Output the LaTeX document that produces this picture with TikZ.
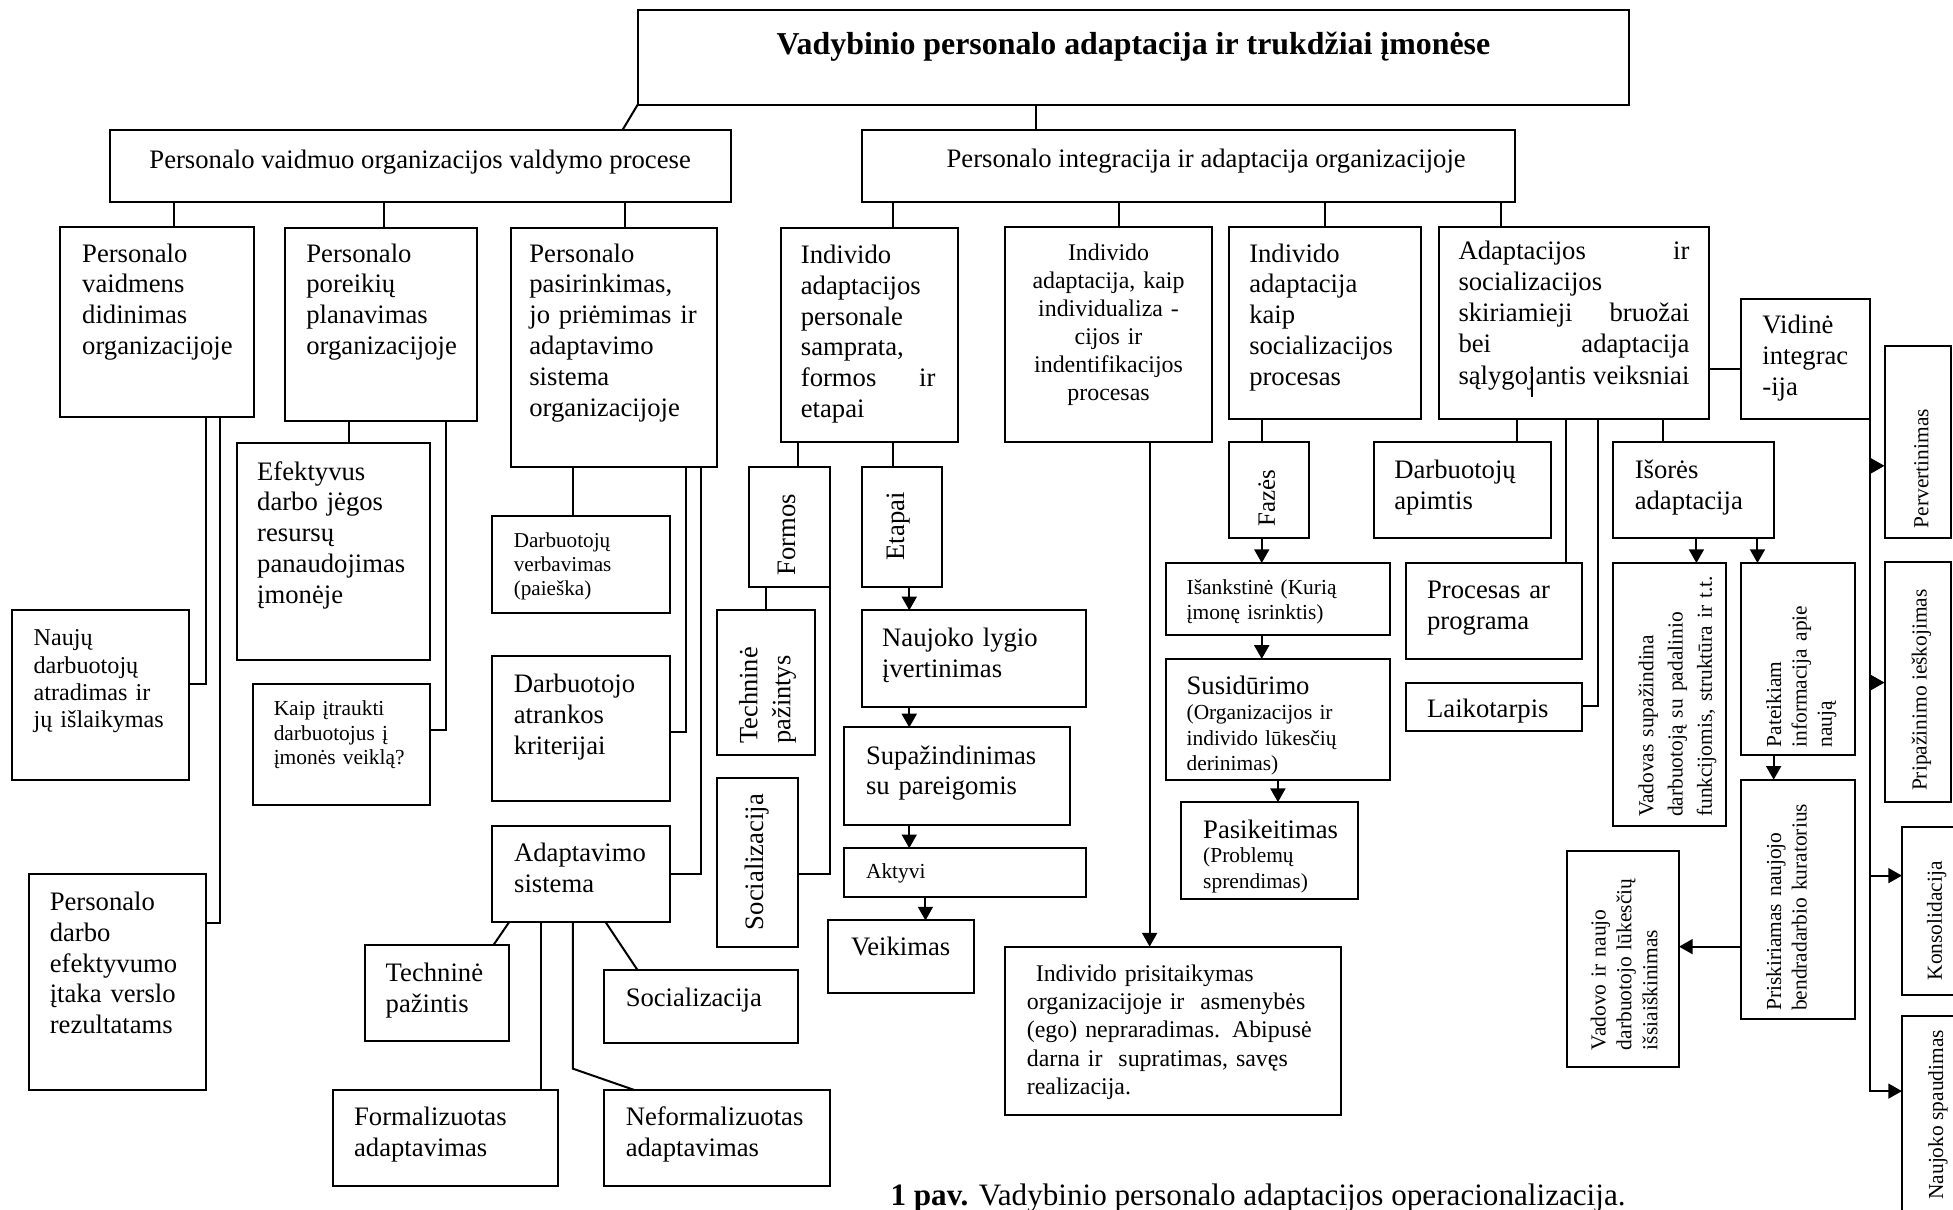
\documentclass[tikz,border=0pt]{standalone}
\usepackage{fontspec}
\setmainfont{Liberation Serif}
\usetikzlibrary{arrows.meta}
\newcommand\mybox[5]{\node[box,anchor=north west,minimum width={(#4-#2)*0.5pt},minimum height={(#5-#3)*0.5pt}] (#1) at (#2,#3) {};}
\newcommand\jl[1]{\leavevmode\hbox to\linewidth{#1}}
\begin{document}
\begin{tikzpicture}[x=0.5pt,y=-0.5pt,
  box/.style={draw,line width=0.8pt,inner sep=0pt,outer sep=0pt},
  ln/.style={line width=0.8pt},
  arr/.style={line width=0.8pt,-{Triangle[length=5.5pt,width=6pt]}},
  tb/.style={inner sep=0pt,outer sep=0pt,align=left,anchor=base west,font=\fontsize{10.7}{12.4}\selectfont},
  tn/.style={tb,yshift=-1.2pt},
  tm/.style={tn,text width=110pt},
  ts/.style={tn,font=\fontsize{8.6}{10}\selectfont},
  tsm/.style={ts,text width=110pt},
  tr/.style={tb,rotate=90,anchor=west},
  trs/.style={tb,font=\fontsize{8.6}{10}\selectfont,rotate=90,anchor=west},
  trm/.style={tb,font=\fontsize{8.6}{10.2}\selectfont,rotate=90,text width=110pt},
]
\path[use as bounding box,fill=white] (0,0) rectangle (1568,971);

% ---------- boxes ----------
\mybox{T}{512}{8}{1308}{84}
\mybox{A}{88}{104}{587}{162}
\mybox{B}{692}{104}{1216}{162}
\mybox{A1}{48}{182}{204}{335}
\mybox{A2}{229}{183}{383}{338}
\mybox{A3}{410}{183}{576}{375}
\mybox{B1}{627}{183}{769}{355}
\mybox{B2}{807}{182}{973}{355}
\mybox{B3}{987}{182}{1141}{336}
\mybox{B4}{1155}{182}{1372}{336}
\mybox{VI}{1398}{240}{1501}{336}
\mybox{PV}{1513}{278}{1566}{432}
\mybox{PR}{1513}{451}{1566}{644}
\mybox{KO}{1527}{664}{1574}{799}
\mybox{NS}{1527}{816}{1574}{1000}
\mybox{NA}{10}{490}{152}{626}
\mybox{PD}{23}{702}{165}{875}
\mybox{EF}{190}{356}{345}{530}
\mybox{KA}{203}{549}{345}{646}
\mybox{DV}{395}{414}{538}{492}
\mybox{DA}{395}{527}{538}{643}
\mybox{AS}{395}{663}{538}{740}
\mybox{TP}{293}{759}{409}{836}
\mybox{SO}{485}{779}{641}{837}
\mybox{FA}{267}{875}{448}{952}
\mybox{NF}{485}{875}{666}{952}
\mybox{FO}{601}{375}{666}{471}
\mybox{ET}{692}{375}{756}{471}
\mybox{TZ}{576}{490}{654}{606}
\mybox{SR}{576}{625}{641}{760}
\mybox{NL}{692}{490}{872}{568}
\mybox{SU}{678}{584}{859}{662}
\mybox{AK}{678}{681}{872}{720}
\mybox{VE}{665}{739}{782}{797}
\mybox{IP}{807}{760}{1077}{895}
\mybox{FZ}{987}{355}{1051}{432}
\mybox{IS}{936}{452}{1116}{510}
\mybox{SD}{936}{529}{1116}{626}
\mybox{PK}{948}{644}{1090}{722}
\mybox{DP}{1103}{355}{1245}{432}
\mybox{PP}{1129}{452}{1270}{529}
\mybox{LA}{1129}{548}{1270}{587}
\mybox{IA}{1295}{355}{1424}{432}
\mybox{VS}{1295}{452}{1386}{663}
\mybox{PA}{1398}{452}{1489}{606}
\mybox{PN}{1398}{626}{1489}{818}
\mybox{VO}{1258}{683}{1348}{857}

% ---------- texts ----------
\node[tn,anchor=base,font=\bfseries\fontsize{12.8}{15}\selectfont] (tT) at (910,41) {Vadybinio personalo adaptacija ir trukdžiai įmonėse};
\node[tn] (tA) at (120,133) {Personalo vaidmuo organizacijos valdymo procese};
\node[tn] (tB) at (760,132) {Personalo integracija ir adaptacija organizacijoje};
\node[tm] (tA1) at (66,208) {Personalo\\vaidmens\\didinimas\\organizacijoje};
\node[tm] (tA2) at (246,208) {Personalo\\poreikių\\planavimas\\organizacijoje};
\node[tm] (tA3) at (425,208) {Personalo\\pasirinkimas,\\jo priėmimas ir\\adaptavimo\\sistema\\organizacijoje};
\node[tn,text width=54pt] (tB1) at (643,209) {Individo\\adaptacijos\\personale\\samprata,\\\jl{formos\hfill ir}\\etapai};
\node[tn,anchor=base,align=center,text width=83pt,font=\fontsize{9.6}{11.3}\selectfont] (tB2) at (890,206.5) {Individo\\adaptacija, kaip\\individualiza -\\cijos ir\\indentifikacijos\\procesas};
\node[tm] (tB3) at (1003,208) {Individo\\adaptacija\\kaip\\socializacijos\\procesas};
\node[tn,text width=92.7pt,font=\fontsize{10.7}{12.5}\selectfont] (tB4) at (1171,206) {\jl{Adaptacijos\hfill ir}\\socializacijos\\\jl{skiriamieji\hfill bruožai}\\\jl{bei\hfill adaptacija}\\\jl{sąlygojantis\hfill veiksniai}};
\node[tm] (tVI) at (1415,265.6) {Vidinė\\integrac\\-ija};
\node[tm,font=\fontsize{9.7}{11}\selectfont] (tNA) at (27,516) {Naujų\\darbuotojų\\atradimas ir\\jų išlaikymas};
\node[tm] (tPD) at (40,728.4) {Personalo\\darbo\\efektyvumo\\įtaka verslo\\rezultatams};
\node[tm] (tEF) at (206.5,383) {Efektyvus\\darbo jėgos\\resursų\\panaudojimas\\įmonėje};
\node[tsm,font=\fontsize{8.6}{9.75}\selectfont] (tKA) at (219.8,572.4) {Kaip įtraukti\\darbuotojus į\\įmonės veiklą?};
\node[tsm,font=\fontsize{8.5}{9.6}\selectfont] (tDV) at (412.5,437.5) {Darbuotojų\\verbavimas\\(paieška)};
\node[tm] (tDA) at (412.5,553.8) {Darbuotojo\\atrankos\\kriterijai};
\node[tm] (tAS) at (412.8,689.5) {Adaptavimo\\sistema};
\node[tm] (tTP) at (309.7,785.4) {Techninė\\pažintis};
\node[tn] (tSO) at (502.4,805.5) {Socializacija};
\node[tm] (tFA) at (284.3,901.4) {Formalizuotas\\adaptavimas};
\node[tm] (tNF) at (502.4,901.4) {Neformalizuotas\\adaptavimas};
\node[tm] (tNL) at (708.3,516.7) {Naujoko lygio\\įvertinimas};
\node[tm] (tSU) at (695.3,611) {Supažindinimas\\su pareigomis};
\node[ts] (tAK) at (695.3,702.7) {Aktyvi};
\node[tn] (tVE) at (683.3,765) {Veikimas};
\node[tn,text width=135pt,font=\fontsize{9.6}{11.4}\selectfont] (tIP) at (824.4,785.3) {\hspace*{3.6pt}Individo prisitaikymas\\organizacijoje ir~ asmenybės\\(ego) nepraradimas. Abipusė\\darna ir~ supratimas, savęs\\realizacija.};
\node[tsm] (tIS) at (952.7,474.7) {Išankstinė (Kurią\\įmonę isrinktis)};
\node[tn] (tSDa) at (952.7,554.8) {Susidūrimo};
\node[tsm,font=\fontsize{8.6}{10.2}\selectfont] (tSDb) at (952.7,575.4) {(Organizacijos ir\\individo lūkesčių\\derinimas)};
\node[tn] (tPKa) at (966,670.8) {Pasikeitimas};
\node[tsm,font=\fontsize{8.6}{10.2}\selectfont] (tPKb) at (966,690.3) {(Problemų\\sprendimas)};
\node[tm] (tDP) at (1119.5,381.5) {Darbuotojų\\apimtis};
\node[tm] (tPP) at (1145.8,478.3) {Procesas ar\\programa};
\node[tn] (tLA) at (1145.8,574) {Laikotarpis};
\node[tm] (tIA) at (1312.5,381.5) {Išorės\\adaptacija};
% rotated texts
\node[tr] (tFO) at (632,462) {Formos};
\node[tr] (tET) at (721.5,450) {Etapai};
\node[tr,font=\fontsize{10}{12}\selectfont] (tFZ) at (1017,422.6) {Fazės};
\node[tb,rotate=90,text width=60pt,font=\fontsize{10.6}{13.3}\selectfont] (tTZ) at (608,597) {Techninė\\pažintys};
\node[tr] (tSR) at (607.5,746.7) {Socializacija};
\node[trm,font=\fontsize{8.6}{11.75}\selectfont] (tVS) at (1327.4,655.8) {Vadovas supažindina\\darbuotoją su padalinio\\funkcijomis, struktūra ir t.t.};
\node[trm] (tPA) at (1430,600) {Pateikiam\\informacija apie\\naują};
\node[trm] (tPN) at (1430,811.6) {Priskiriamas naujojo\\bendradarbio kuratorius};
\node[trm,font=\fontsize{8.6}{10.4}\selectfont] (tVO) at (1289,843) {Vadovo ir naujo\\darbuotojo lūkesčių\\išsiaiškinimas};
\node[trs] (tPV) at (1542.6,424) {Pervertinimas};
\node[trs] (tPR) at (1542.6,635) {Pripažinimo ieškojimas};
\node[trs] (tKO) at (1555,787) {Konsolidacija};
\node[trs,anchor=east] (tNS) at (1556,827) {Naujoko spaudimas};
% caption
\node[tb,font=\fontsize{12.5}{15}\selectfont] (cap) at (715,968) {\textbf{1 pav.} Vadybinio personalo adaptacijos operacionalizacija.};

% ---------- connectors ----------
\draw[ln] (T.south west) -- (A.north -| 500,0);
\draw[ln] (T.south -| 832,0) -- (B.north -| 832,0);
\foreach \x/\n in {140/A1, 308/A2, 502/A3} \draw[ln] (A.south -| \x,0) -- (\n.north -| \x,0);
\foreach \x/\n in {717/B1, 898/B2, 1064/B3, 1205/B4} \draw[ln] (B.south -| \x,0) -- (\n.north -| \x,0);
\draw[ln] (B4.east |- 0,296) -- (VI.west |- 0,296);
\draw[arr] (VI.south east) |- (NS.west |- 0,876);
\draw[arr] (VI.south east |- 0,374) -- (PV.west |- 0,374);
\draw[arr] (VI.south east |- 0,548) -- (PR.west |- 0,548);
\draw[arr] (VI.south east |- 0,703) -- (KO.west |- 0,703);
\draw[ln] (A1.south -| 165,0) |- (NA.east |- 0,549);
\draw[ln] (A1.south -| 177,0) |- (PD.east |- 0,741);
\draw[ln] (A2.south -| 280,0) -- (EF.north -| 280,0);
\draw[ln] (A2.south -| 358,0) |- (KA.east |- 0,586);
\draw[ln] (A3.south -| 460,0) -- (DV.north -| 460,0);
\draw[ln] (A3.south -| 551,0) |- (DA.east |- 0,588);
\draw[ln] (A3.south -| 563,0) |- (AS.east |- 0,702);
\draw[ln] (AS.south -| 409,0) -- (TP.north -| 396,0);
\draw[ln] (AS.south -| 434,0) -- (FA.north -| 434,0);
\draw[ln] (AS.south -| 460,0) -- (460,858) -- (NF.north -| 509,0);
\draw[ln] (AS.south -| 486,0) -- (SO.north -| 512,0);
\draw[ln] (B1.south -| 641,0) -- (FO.north -| 641,0);
\draw[ln] (B1.south -| 717,0) -- (ET.north -| 717,0);
\draw[ln] (FO.south -| 615,0) -- (TZ.north -| 615,0);
\draw[ln] (FO.south east) |- (SR.east |- 0,702);
\draw[arr] (ET.south -| 730,0) -- (NL.north -| 730,0);
\draw[arr] (NL.south -| 730,0) -- (SU.north -| 730,0);
\draw[arr] (SU.south -| 730,0) -- (AK.north -| 730,0);
\draw[arr] (AK.south -| 743,0) -- (VE.north -| 743,0);
\draw[arr] (B2.south -| 923,0) -- (IP.north -| 923,0);
\draw[ln] (B3.south -| 1013,0) -- (FZ.north -| 1013,0);
\draw[arr] (FZ.south -| 1013,0) -- (IS.north -| 1013,0);
\draw[arr] (IS.south -| 1013,0) -- (SD.north -| 1013,0);
\draw[arr] (SD.south -| 1026,0) -- (PK.north -| 1026,0);
\draw[ln] (B4.south -| 1218,0) -- (DP.north -| 1218,0);
\draw[ln] (B4.south -| 1257,0) -- (PP.north -| 1257,0);
\draw[ln] (B4.south -| 1283,0) |- (LA.east |- 0,567);
\draw[ln] (B4.south -| 1335,0) -- (IA.north -| 1335,0);
\draw[ln] (1230,296) -- (1230,319);
\draw[arr] (IA.south -| 1362,0) -- (VS.north -| 1362,0);
\draw[arr] (IA.south -| 1411,0) -- (PA.north -| 1411,0);
\draw[arr] (PA.south -| 1424,0) -- (PN.north -| 1424,0);
\draw[arr] (PN.west |- 0,760) -- (VO.east |- 0,760);
\end{tikzpicture}
\end{document}
